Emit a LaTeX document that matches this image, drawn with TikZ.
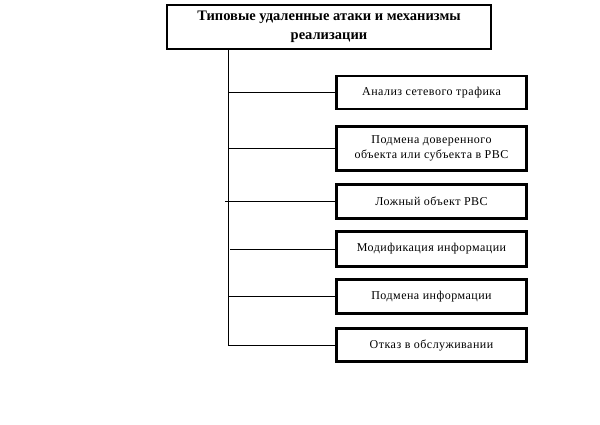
\documentclass[tikz,border=0pt]{standalone}
\usepackage{fontspec}
\setmainfont{Liberation Serif}
\newfontfamily\kindfont[LetterSpace=4]{Liberation Serif}
\usetikzlibrary{positioning}

\begin{document}
\begin{tikzpicture}[x=1pt, y=-1pt,
	head/.style={draw, line width=2.6pt, minimum width=324pt, minimum height=44pt, align=center, font=\fontsize{14.5}{19}\selectfont\bfseries},
	kind/.style={draw, line width=2.6pt, minimum width=190pt, align=center, font=\kindfont\fontsize{12}{15}\selectfont}]
	\def\tx{228};

	\useasboundingbox (0,0) rectangle (600,424);

	\begin{scope}
		\node[head] (top) at (329,27) {Типовые удаленные атаки и механизмы\\реализации};
	\end{scope}

	\begin{scope}
		\node[kind, minimum height=33pt] (sniff) at (431.5,92.5) {Анализ сетевого трафика};
		\node[kind, minimum height=44pt] (trust) at (431.5,148.5) {Подмена доверенного\\объекта или субъекта в РВС};
		\node[kind, minimum height=34pt] (fake) at (431.5,201.5) {Ложный объект РВС};
		\node[kind, minimum height=35pt] (modif) at (431.5,249) {Модификация информации};
		\node[kind, minimum height=34pt] (subst) at (431.5,296.5) {Подмена информации};
		\node[kind, minimum height=33pt] (dos) at (431.5,345) {Отказ в обслуживании};
	\end{scope}

	\begin{scope}
		\coordinate (trunk) at (\tx,0);
		\draw (top.south -| trunk) -- (trunk |- dos.west);
		\draw (trunk |- sniff.west) -- (sniff.west);
		\draw (trunk |- trust.west) -- (trust.west);
		\draw ([xshift=-3pt]trunk |- fake.west) -- (fake.west);
		\draw ([xshift=2pt]trunk |- modif.west) -- ([xshift=3pt]modif.west);
		\draw (trunk |- subst.west) -- (subst.west);
		\draw (trunk |- dos.west) -- (dos.west);
	\end{scope}
\end{tikzpicture}
\end{document}
